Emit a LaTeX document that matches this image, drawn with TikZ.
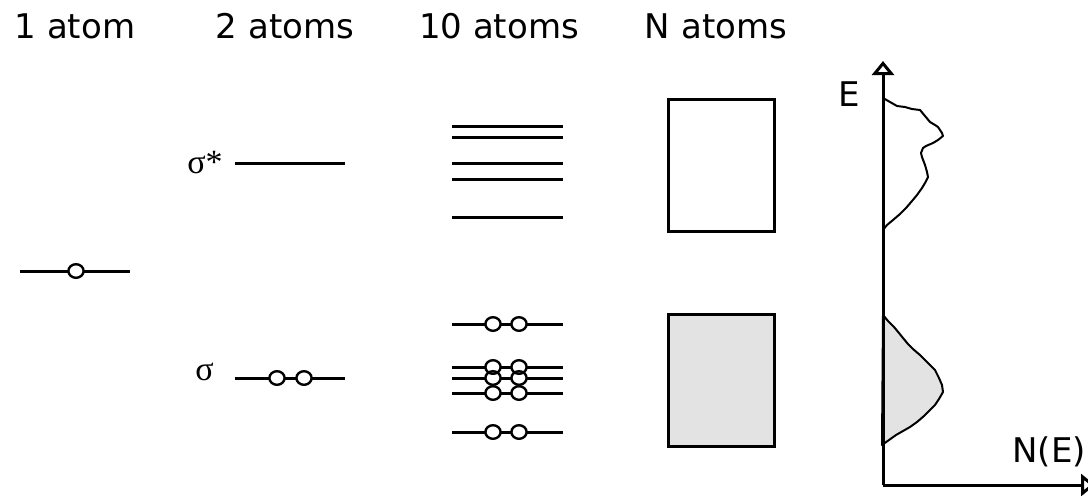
\documentclass[tikz,border=0pt]{standalone}
\usepackage{fontspec}
\setmainfont{DejaVu Sans}
\newfontfamily\greekfont{Liberation Serif}
\usepackage{tikz}
\usetikzlibrary{arrows.meta, positioning}

\begin{document}
\begin{tikzpicture}[
    x=0.5pt, y=-0.5pt,
    lbl/.style={font=\fontsize{17}{20}\selectfont, inner sep=0pt},
    orbital/.style={line width=1.5pt},
    elec/.style={line width=1.2pt},
    bandbox/.style={rectangle, draw, line width=1.5pt, minimum width=53pt, minimum height=66pt, inner sep=0pt},
    eaxis/.style={line width=1.5pt, -{Triangle[open, length=7pt, width=11pt]}},
    dos/.style={line width=1pt, line join=round},
]
\useasboundingbox (0,0) rectangle (1088,495);

\node[lbl, anchor=base] (t1) at (75,38) {1 atom};
\node[lbl, anchor=base] (t2) at (285,38) {2 atoms};
\node[lbl, anchor=base] (t10) at (499,38) {10 atoms};
\node[lbl, anchor=base] (tN) at (716,38) {N atoms};

\node[lbl, anchor=base west] (sstar) at (187,173) {\greekfont σ*};
\node[lbl, anchor=base west] (sig) at (195,380) {\greekfont σ};

\draw[orbital] (20,271) -- (130,271);
\draw[orbital] (235,163) -- (345,163);
\draw[orbital] (235,378) -- (345,378);
\foreach \y in {126,137,163,179,217,324,367,378,393,432}
  \draw[orbital] (452,\y) -- (563,\y);

\foreach \x/\y in {76/271, 277/378, 304/378, 493/324, 519/324, 493/367, 519/367,
                   493/378, 519/378, 493/393, 519/393, 493/432, 519/432}
  \fill[white] (\x,\y) ellipse [x radius=3.8pt, y radius=3.4pt];
\foreach \x/\y in {76/271, 277/378, 304/378, 493/324, 519/324, 493/367, 519/367,
                   493/378, 519/378, 493/393, 519/393, 493/432, 519/432}
  \draw[elec] (\x,\y) ellipse [x radius=3.8pt, y radius=3.4pt];

\node[bandbox] (antib) at (721.5,165.5) {};
\node[bandbox, fill=gray!22] (bondb) at (721.5,380.5) {};

\draw[dos] plot coordinates {(883,98) (890,102) (897,106) (905,107) (912,109) (920,110)
  (925,116) (930,122) (935,125) (938,127) (942,133) (943,136) (938,140) (933,143)
  (926,146) (923,148) (921,153) (922,157) (925,165) (927,172) (928,177) (925,183)
  (922,188) (917,195) (912,201) (906,208) (900,214) (893,220) (887,225) (883,230)};
\filldraw[dos, fill=gray!22] plot coordinates {(883,315) (888,321) (894,327) (899,333)
  (903,338) (908,344) (913,349) (920,355) (925,360) (930,365) (935,370) (939,378)
  (942,385) (943,392) (939,399) (935,405) (930,410) (924,416) (917,422) (910,427)
  (903,431) (896,435) (889,440) (882,445)} -- cycle;

\coordinate (o) at (883,485);
\coordinate (etop) at (883,61);
\coordinate (nright) at (1095,485);
\draw[eaxis] (o) -- (etop);
\draw[eaxis] (o) -- (nright);

\node[lbl] (elabel) at (849,94) {E};
\node[lbl, anchor=base west] (nlabel) at (1012,462) {N(E)};
\end{tikzpicture}
\end{document}
